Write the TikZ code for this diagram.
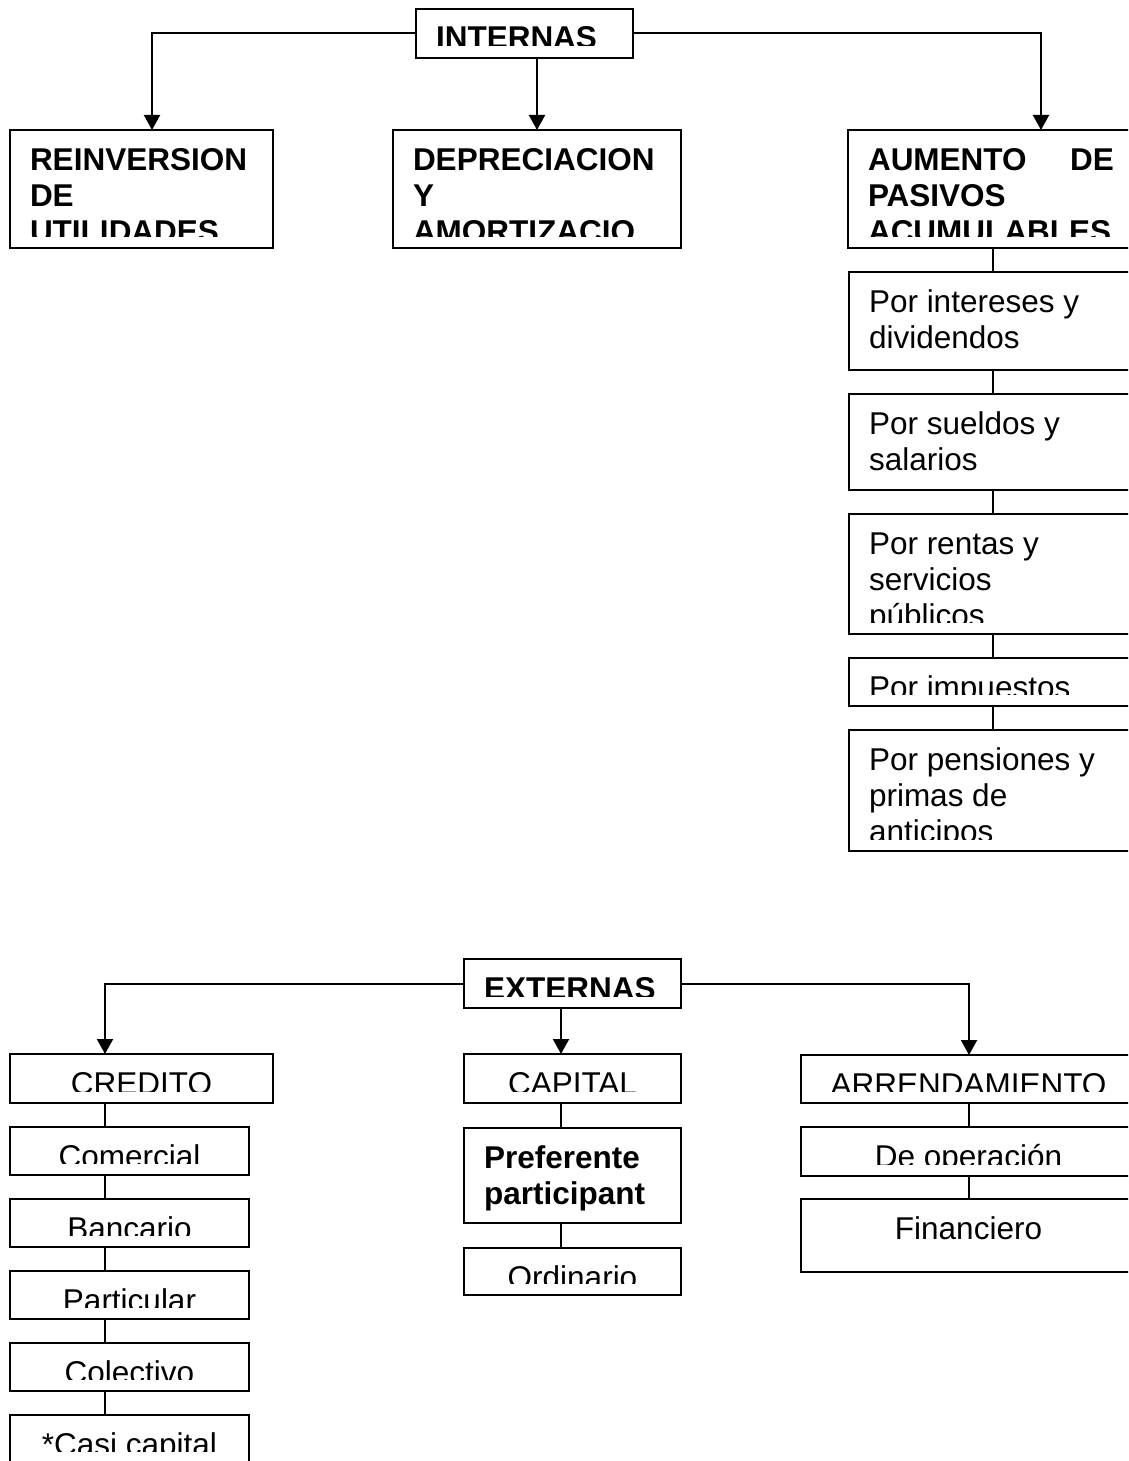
\documentclass[tikz,border=0pt]{standalone}
\usepackage{fontspec}
\setmainfont{Liberation Sans}
\usetikzlibrary{arrows.meta,fit}
\newcommand{\mkbox}[5]{\node[boxsty, fit={(#2,#3) (#4,#5)}] (#1) {};}
\newcommand{\lineL}[4]{\node[txt, anchor=base west] (#2) at ([xshift=20pt, yshift=-#3pt]#1.north west) {#4};}
\newcommand{\lineC}[4]{\node[txt, anchor=base] (#2) at ([yshift=-#3pt]#1.north) {#4};}
\newcommand{\clipbox}[1]{\clip (#1.north west) rectangle ([yshift=12pt]#1.south east);}
\begin{document}
\begin{tikzpicture}[x=1pt,y=-1pt,
  boxsty/.style={draw, line width=2pt, inner sep=0pt, outer sep=0pt},
  txt/.style={inner sep=0pt, outer sep=0pt, font=\fontsize{31.5pt}{36pt}\selectfont},
  link/.style={line width=2pt},
  arrow/.style={line width=2pt, -{Triangle[width=16pt,length=15pt]}}]
\useasboundingbox (0,0) rectangle (1128,1461);
\fill[white] (0,0) rectangle (1128,1461);
\clip (0,0) rectangle (1128,1461);

% ---------- INTERNAS ----------
\mkbox{int}{416}{9}{633}{58}
\mkbox{rein}{10}{130}{273}{248}
\mkbox{dep}{393}{130}{681}{248}
\mkbox{aum}{848}{130}{1136}{248}
\mkbox{ra}{849}{272}{1136}{370}
\mkbox{rb}{849}{394}{1136}{490}
\mkbox{rc}{849}{514}{1136}{634}
\mkbox{rd}{849}{658}{1136}{706}
\mkbox{re}{849}{730}{1136}{851}

\begin{scope}\clipbox{int}\lineL{int}{int1}{40}{\bfseries INTERNAS}\end{scope}
\begin{scope}\clipbox{rein}
  \lineL{rein}{rein1}{40}{\bfseries REINVERSION}
  \lineL{rein}{rein2}{76}{\bfseries DE}
  \lineL{rein}{rein3}{112}{\bfseries UTILIDADES}
\end{scope}
\begin{scope}\clipbox{dep}
  \lineL{dep}{dep1}{40}{\bfseries DEPRECIACION}
  \lineL{dep}{dep2}{76}{\bfseries Y}
  \lineL{dep}{dep3}{112}{\bfseries AMORTIZACIO}
\end{scope}
\begin{scope}\clipbox{aum}
  \lineL{aum}{aum1}{40}{\makebox[246pt][l]{\bfseries AUMENTO\hfill DE}}
  \lineL{aum}{aum2}{76}{\bfseries PASIVOS}
  \lineL{aum}{aum3}{112}{\bfseries ACUMULABLES}
\end{scope}
\begin{scope}\clipbox{ra}
  \lineL{ra}{ra1}{40}{Por intereses y}
  \lineL{ra}{ra2}{76}{dividendos}
\end{scope}
\begin{scope}\clipbox{rb}
  \lineL{rb}{rb1}{40}{Por sueldos y}
  \lineL{rb}{rb2}{76}{salarios}
\end{scope}
\begin{scope}\clipbox{rc}
  \lineL{rc}{rc1}{40}{Por rentas y}
  \lineL{rc}{rc2}{76}{servicios}
  \lineL{rc}{rc3}{112}{públicos}
\end{scope}
\begin{scope}\clipbox{rd}
  \lineL{rd}{rd1}{40}{Por impuestos}
\end{scope}
\begin{scope}\clipbox{re}
  \lineL{re}{re1}{40}{Por pensiones y}
  \lineL{re}{re2}{76}{primas de}
  \lineL{re}{re3}{112}{anticipos}
\end{scope}

\coordinate (xa) at (152,0);
\coordinate (xb) at (1041,0);
\coordinate (xc) at (993,0);
\draw[arrow] (int.west) -| (rein.north -| xa);
\draw[arrow] (int.south -| dep.north) -- (dep.north);
\draw[arrow] (int.east) -| (aum.north -| xb);
\draw[link] (aum.south -| xc) -- (ra.north -| xc);
\draw[link] (ra.south -| xc) -- (rb.north -| xc);
\draw[link] (rb.south -| xc) -- (rc.north -| xc);
\draw[link] (rc.south -| xc) -- (rd.north -| xc);
\draw[link] (rd.south -| xc) -- (re.north -| xc);

% ---------- EXTERNAS ----------
\mkbox{ext}{464}{959}{681}{1008}
\mkbox{crd}{10}{1054}{273}{1103}
\mkbox{com}{10}{1127}{249}{1175}
\mkbox{ban}{10}{1199}{249}{1247}
\mkbox{par}{10}{1271}{249}{1319}
\mkbox{col}{10}{1343}{249}{1391}
\mkbox{cas}{10}{1415}{249}{1463}
\mkbox{cap}{464}{1054}{681}{1103}
\mkbox{pre}{464}{1128}{681}{1223}
\mkbox{ord}{464}{1248}{681}{1295}
\mkbox{arrend}{801}{1055}{1136}{1103}
\mkbox{deo}{801}{1127}{1136}{1176}
\mkbox{fin}{801}{1199}{1136}{1272}

\begin{scope}\clipbox{ext}\lineL{ext}{ext1}{40}{\bfseries EXTERNAS}\end{scope}
\begin{scope}\clipbox{crd}\lineC{crd}{crd1}{40}{CREDITO}\end{scope}
\begin{scope}\clipbox{com}\lineC{com}{com1}{40}{Comercial}\end{scope}
\begin{scope}\clipbox{ban}\lineC{ban}{ban1}{40}{Bancario}\end{scope}
\begin{scope}\clipbox{par}\lineC{par}{par1}{40}{Particular}\end{scope}
\begin{scope}\clipbox{col}\lineC{col}{col1}{40}{Colectivo}\end{scope}
\begin{scope}\clipbox{cas}\lineC{cas}{cas1}{40}{*Casi capital}\end{scope}
\begin{scope}\clipbox{cap}\lineC{cap}{cap1}{40}{CAPITAL}\end{scope}
\begin{scope}\clipbox{pre}
  \lineL{pre}{pre1}{40}{\bfseries Preferente}
  \lineL{pre}{pre2}{76}{\bfseries participant}
\end{scope}
\begin{scope}\clipbox{ord}\lineC{ord}{ord1}{40}{Ordinario}\end{scope}
\begin{scope}\clipbox{arrend}\lineC{arrend}{arrend1}{40}{ARRENDAMIENTO}\end{scope}
\begin{scope}\clipbox{deo}\lineC{deo}{deo1}{40}{De operación}\end{scope}
\begin{scope}\clipbox{fin}\lineC{fin}{fin1}{40}{Financiero}\end{scope}

\coordinate (xd) at (105,0);
\coordinate (xe) at (561,0);
\coordinate (xf) at (969,0);
\draw[arrow] (ext.west) -| (crd.north -| xd);
\draw[arrow] (ext.south -| xe) -- (cap.north -| xe);
\draw[arrow] (ext.east) -| (arrend.north -| xf);
\draw[link] (crd.south -| xd) -- (com.north -| xd);
\draw[link] (com.south -| xd) -- (ban.north -| xd);
\draw[link] (ban.south -| xd) -- (par.north -| xd);
\draw[link] (par.south -| xd) -- (col.north -| xd);
\draw[link] (col.south -| xd) -- (cas.north -| xd);
\draw[link] (cap.south -| xe) -- (pre.north -| xe);
\draw[link] (pre.south -| xe) -- (ord.north -| xe);
\draw[link] (arrend.south -| xf) -- (deo.north -| xf);
\draw[link] (deo.south -| xf) -- (fin.north -| xf);
\end{tikzpicture}
\end{document}
